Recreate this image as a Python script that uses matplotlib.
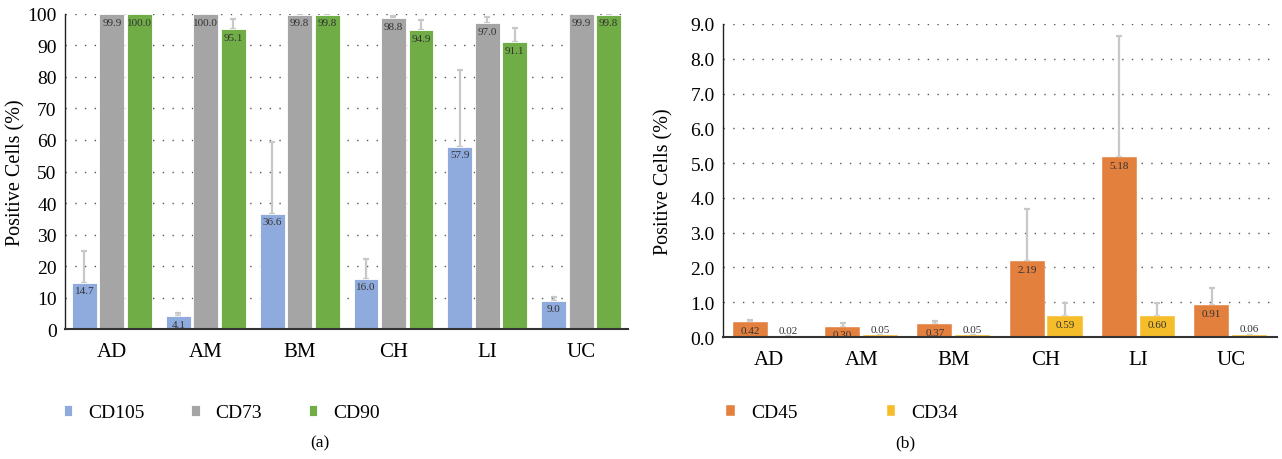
import matplotlib.pyplot as plt
import numpy as np

plt.rcParams['font.family'] = ['Liberation Serif', 'DejaVu Serif']

categories = ['AD', 'AM', 'BM', 'CH', 'LI', 'UC']

# panel (a)
cd105 = [14.7, 4.1, 36.6, 16.0, 57.9, 9.0]
cd105_err = [10.1, 1.0, 22.7, 6.2, 24.4, 1.3]
cd73 = [99.9, 100.0, 99.8, 98.8, 97.0, 99.9]
cd73_err = [0.1, 0.1, 0.2, 0.7, 2.2, 0.1]
cd90 = [100.0, 95.1, 99.8, 94.9, 91.1, 99.8]
cd90_err = [0.1, 3.3, 0.2, 3.3, 4.6, 0.1]

# panel (b)
cd45 = [0.42, 0.30, 0.37, 2.19, 5.18, 0.91]
cd45_err = [0.08, 0.10, 0.09, 1.49, 3.47, 0.49]
cd34 = [0.02, 0.05, 0.05, 0.59, 0.60, 0.06]
cd34_err = [0.01, 0.01, 0.01, 0.40, 0.39, 0.01]

ERR_KW = dict(fmt='none', ecolor='#c8c8c8', elinewidth=1.6, capsize=2.5,
              capthick=1.6, zorder=1.5)
LABEL_COLOR = '#333333'


def style_axis(ax, ylim, yticks, fmt, labelpad):
    ax.set_xlim(0, len(categories))
    ax.set_ylim(*ylim)
    ax.set_yticks(yticks)
    ax.set_yticklabels([fmt.format(t) for t in yticks], fontsize=14)
    ax.set_xticks(np.arange(len(categories)) + 0.5)
    ax.set_xticklabels(categories, fontsize=15)
    ax.tick_params(axis='both', length=0, pad=6)
    ax.tick_params(axis='x', pad=9)
    for s in ['top', 'right']:
        ax.spines[s].set_visible(False)
    ax.spines['left'].set_color('#222222')
    ax.spines['bottom'].set_color('#333333')
    ax.spines['left'].set_linewidth(1.0)
    ax.spines['bottom'].set_linewidth(1.5)
    ax.yaxis.grid(True, linestyle=(0, (1, 6)), color='#555555', linewidth=1.0)
    ax.set_axisbelow(True)
    ax.set_ylabel('Positive Cells (%)', fontsize=14.5, labelpad=labelpad)


def bar_labels(ax, xs, vals, fmt, ymax, min_inside):
    for x, v in zip(xs, vals):
        if v >= min_inside:
            y = v - ymax * 0.012
            va = 'top'
        else:
            y = v + ymax * 0.005
            va = 'bottom'
        ax.text(x, y, fmt.format(v), ha='center', va=va, fontsize=8,
                color=LABEL_COLOR, zorder=4)


def draw_series(ax, xs, vals, err, col, name, w, lw):
    ax.bar(xs, vals, width=w, color=col, edgecolor='white', linewidth=lw,
           label=name, zorder=2)
    err = np.array(err)
    ax.errorbar(xs, vals, yerr=[np.zeros(len(err)), err], **ERR_KW)


fig = plt.figure(figsize=(12.82, 4.6), dpi=100)

# ---- (a)
ax1 = fig.add_axes([0.0507, 0.2826, 0.4392, 0.6848])
x = np.arange(len(categories)) + 0.5
w = 0.265
off = 0.293
series_a = [(cd105, cd105_err, '#8faadc', 'CD105'),
            (cd73, cd73_err, '#a5a5a5', 'CD73'),
            (cd90, cd90_err, '#70ad47', 'CD90')]
for i, (vals, err, col, name) in enumerate(series_a):
    xs = x + (i - 1) * off
    draw_series(ax1, xs, vals, err, col, name, w, 0.6)
    bar_labels(ax1, xs, vals, '{:.1f}', 100, 2)
style_axis(ax1, (0, 100), np.arange(0, 101, 10), '{:.0f}', 1)

h1, l1 = ax1.get_legend_handles_labels()
fig.legend(handles=h1, labels=l1,
           loc='center left', bbox_to_anchor=(0.036, 0.1), ncol=3,
           frameon=False, fontsize=14, handlelength=0.45,
           handleheight=0.45, handletextpad=0.8, columnspacing=2.4)
fig.text(0.2496, 0.037, '(a)', ha='center', va='center', fontsize=12.5)

# ---- (b)
ax2 = fig.add_axes([0.564, 0.2652, 0.432, 0.6805])
w2 = 0.38
off2 = 0.205
series_b = [(cd45, cd45_err, '#e3803e', 'CD45'),
            (cd34, cd34_err, '#f5bd2a', 'CD34')]
for i, (vals, err, col, name) in enumerate(series_b):
    xs = x + (i - 0.5) * 2 * off2
    draw_series(ax2, xs, vals, err, col, name, w2, 0.3)
    bar_labels(ax2, xs, vals, '{:.2f}', 9, 0.2)
style_axis(ax2, (0, 9), np.arange(0, 9.01, 1.0), '{:.1f}', 12)

h2, l2 = ax2.get_legend_handles_labels()
fig.legend(handles=h2, labels=l2, loc='center left',
           bbox_to_anchor=(0.553, 0.1), ncol=2, frameon=False,
           fontsize=14, handlelength=0.45, handleheight=0.45,
           handletextpad=0.8, columnspacing=4.6)
fig.text(0.706, 0.037, '(b)', ha='center', va='center', fontsize=12.5)

fig.savefig('out.png', dpi=100)
